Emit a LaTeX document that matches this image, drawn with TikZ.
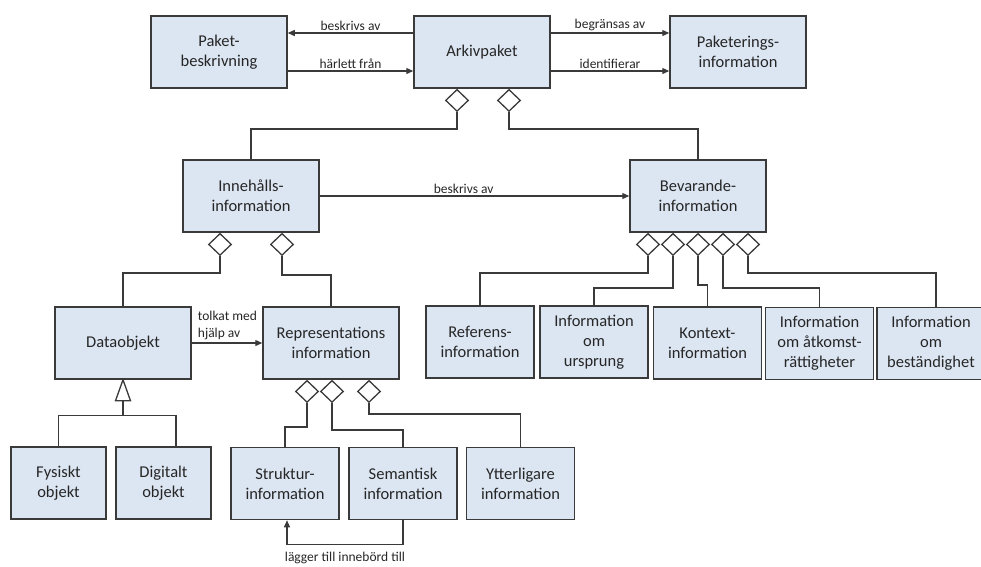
\documentclass[tikz,border=0pt]{standalone}
\usepackage{fontspec}
\setmainfont{Carlito}
\usetikzlibrary{arrows.meta,shapes.geometric}
\definecolor{boxfill}{HTML}{DCE6F2}
\definecolor{edge}{HTML}{3A3A3A}
\definecolor{ink}{HTML}{262626}
\begin{document}
\begin{tikzpicture}[x=1pt,y=-1pt,
  box/.style={draw=edge,line width=1.5pt,fill=boxfill,text=ink,align=center,inner sep=0pt,
    font=\fontsize{16.5}{20}\selectfont},
  wide/.style={box,minimum width=136pt,minimum height=72pt},
  mid/.style={box,minimum width=108pt,minimum height=72pt},
  small/.style={box,minimum width=95pt,minimum height=72pt},
  agg/.style={diamond,draw=edge,line width=1.3pt,fill=white,inner sep=0pt,
    minimum width=23pt,minimum height=22pt,anchor=north},
  link/.style={draw=edge,line width=1.3pt},
  arr/.style={link,-{Triangle[length=7pt,width=6pt]}},
  lab/.style={text=ink,font=\fontsize{13.5}{17}\selectfont,inner sep=1.5pt}]

\useasboundingbox (0,0) rectangle (981,566);

% package level
\node[wide] (pkb) at (219,52) {Paket-\\beskrivning};
\node[wide] (ark) at (482,52) {Arkivpaket};
\node[wide] (pki) at (738,52) {Paketerings-\\information};

% content and preservation information
\node[wide] (inn) at (251,196) {Innehålls-\\information};
\node[wide] (bev) at (698,196) {Bevarande-\\information};

% data object and representation information
\node[wide] (dat) at (123,343) {Dataobjekt};
\node[wide] (rep) at (331,343) {Representations\\information};

% parts of the preservation information
\node[mid] (ref) at (480,342)   {Referens-\\information};
\node[mid] (urs) at (594,342)   {Information\\om\\ursprung};
\node[mid] (kon) at (707.5,343) {Kontext-\\information};
\node[mid] (atk) at (819.5,343.5) {Information\\om åtkomst-\\rättigheter};
\node[mid] (bes) at (931,343.5) {Information\\om\\beständighet};

% kinds of data object
\node[small] (fys) at (58.5,483)  {Fysiskt\\objekt};
\node[small] (dig) at (163.5,483) {Digitalt\\objekt};

% kinds of representation information
\node[mid] (str) at (285,483.5) {Struktur-\\information};
\node[mid] (sem) at (403,483.5) {Semantisk\\information};
\node[mid] (ytt) at (520.5,483.5) {Ytterligare\\information};

% associations of the package
\draw[arr] ([yshift=19pt]ark.west) -- ([yshift=19pt]pkb.east)
  node[lab,midway,above] {beskrivs av};
\draw[arr] ([yshift=-19pt]pkb.east) -- ([yshift=-19pt]ark.west)
  node[lab,midway,above] {härlett från};
\draw[arr] ([yshift=19pt]ark.east) -- ([yshift=19pt]pki.west)
  node[lab,midway,above] {begränsas av};
\draw[arr] ([yshift=-19pt]ark.east) -- ([yshift=-19pt]pki.west)
  node[lab,midway,above] {identifierar};

% aggregation: package
\node[agg] (a1) at ([xshift=-25pt]ark.south) {};
\node[agg] (a2) at ([xshift=27pt]ark.south) {};
\draw[link] (a1.south) -- ++(0,17) -| (inn.north);
\draw[link] (a2.south) -- ++(0,17) -| (bev.north);

\draw[arr] (inn.east) -- (bev.west) node[lab,pos=0.465,above] {beskrivs av};

% aggregation: content information
\node[agg] (c1) at ([xshift=-31pt]inn.south) {};
\node[agg] (c2) at ([xshift=31pt]inn.south) {};
\draw[link] (c1.south) -- ++(0,17) -| (dat.north);
\draw[link] (c2.south) -- ++(0,19) -| (rep.north);

% aggregation: preservation information
\node[agg] (b1) at ([xshift=-50pt]bev.south) {};
\node[agg] (b2) at ([xshift=-25pt]bev.south) {};
\node[agg] (b3) at (bev.south) {};
\node[agg] (b4) at ([xshift=25pt]bev.south) {};
\node[agg] (b5) at ([xshift=50pt]bev.south) {};
\draw[link] (b1.south) -- ++(0,17) -| (ref.north);
\draw[link] (b2.south) -- ++(0,32) -| (urs.north);
\draw[link] (b3.south) -- ++(0,29) -| (kon.north);
\draw[link] (b4.south) -- ++(0,32) -| (atk.north);
\draw[link] (b5.south) -- ++(0,17) -| ([xshift=5pt]bes.north);

% data object interpreted by representation information
\draw[arr] (dat.east) -- (rep.west);
\node[lab,anchor=south west,align=left,inner sep=1pt]
  (tolk) at ([xshift=5pt,yshift=2pt]dat.east) {tolkat med\\hjälp av};

% generalisation: data object
\draw[link,fill=white,line join=miter] (dat.south) -- ++(-7.5,21) -- ++(15,0) -- cycle;
\coordinate (tb) at ([yshift=-21pt]dat.south);
\draw[link] (tb) -- ++(0,15) coordinate (tj);
\draw[link] (fys.north) |- (tj) -| ([xshift=12.5pt]dig.north);

% aggregation: representation information
\node[agg] (r1) at ([xshift=-24pt]rep.south) {};
\node[agg] (r2) at ([xshift=1pt]rep.south) {};
\node[agg] (r3) at ([xshift=38pt]rep.south) {};
\draw[link] (r1.south) -- ++(0,24) -| (str.north);
\draw[link] (r2.south) -- ++(0,27) -| (sem.north);
\draw[link] (r3.south) -- ++(0,11) -| (ytt.north);

% semantic information adds meaning to structure information
\draw[arr] (sem.south) -- ++(0,24) -| ([xshift=2pt]str.south)
  node[lab,pos=0.25,below=6pt] {lägger till innebörd till};

\end{tikzpicture}
\end{document}
